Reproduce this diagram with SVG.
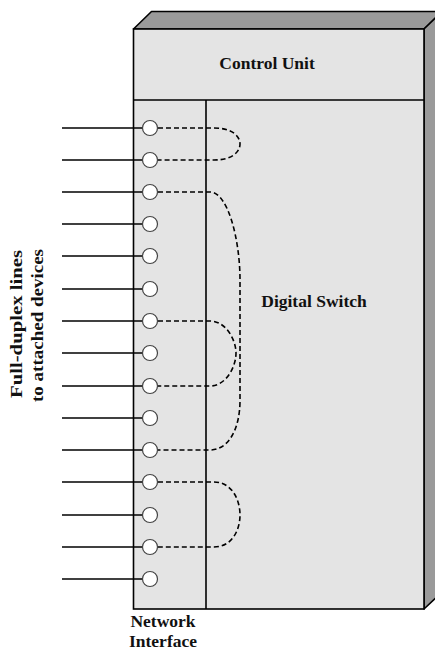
<svg xmlns="http://www.w3.org/2000/svg" width="435" height="650" viewBox="0 0 435 650">
  <style>
    .face { fill: #e4e4e4; stroke: #000; stroke-width: 1.6; }
    .side { fill: #9a9a9a; stroke: #000; stroke-width: 1.6; stroke-linejoin: round; }
    .edge { fill: none; stroke: #000; stroke-width: 1.6; }
    .line { stroke: #000; stroke-width: 1.6; }
    .port { fill: #fff; stroke: #444; stroke-width: 1.2; }
    .link { fill: none; stroke: #000; stroke-width: 1.6; stroke-dasharray: 5 3; }
    .label { font-family: "Liberation Serif", "Times New Roman", serif; font-weight: bold; font-size: 17.5px; fill: #111; }
  </style>
  <rect width="435" height="650" fill="#fff"/>

  <!-- switch cabinet -->
  <g id="cabinet">
    <polygon class="side" points="133.5,29 151.5,11.5 442,11.5 424,29"/>
    <polygon class="side" points="424,29 442,11.5 442,592 424,609"/>
    <rect class="face" x="133.5" y="29" width="290.5" height="580"/>
  </g>

  <g id="control-unit">
    <line class="edge" x1="133.5" y1="100" x2="424" y2="100"/>
    <text class="label" x="267" y="69" text-anchor="middle">Control Unit</text>
  </g>

  <g id="network-interface">
    <line class="edge" x1="206" y1="100" x2="206" y2="609"/>
    <text class="label" x="163" y="627" text-anchor="middle">Network</text>
    <text class="label" x="163" y="647" text-anchor="middle">Interface</text>
  </g>

  <g id="digital-switch">
    <text class="label" x="314" y="307" text-anchor="middle">Digital Switch</text>
  </g>

  <!-- full-duplex lines to devices -->
  <g id="lines">
    <line class="line" x1="62" y1="128" x2="143" y2="128"/>
    <line class="line" x1="62" y1="160" x2="143" y2="160"/>
    <line class="line" x1="62" y1="192" x2="143" y2="192"/>
    <line class="line" x1="62" y1="224" x2="143" y2="224"/>
    <line class="line" x1="62" y1="256" x2="143" y2="256"/>
    <line class="line" x1="62" y1="289" x2="143" y2="289"/>
    <line class="line" x1="62" y1="321" x2="143" y2="321"/>
    <line class="line" x1="62" y1="353" x2="143" y2="353"/>
    <line class="line" x1="62" y1="386" x2="143" y2="386"/>
    <line class="line" x1="62" y1="418" x2="143" y2="418"/>
    <line class="line" x1="62" y1="450" x2="143" y2="450"/>
    <line class="line" x1="62" y1="482" x2="143" y2="482"/>
    <line class="line" x1="62" y1="515" x2="143" y2="515"/>
    <line class="line" x1="62" y1="547" x2="143" y2="547"/>
    <line class="line" x1="62" y1="579" x2="143" y2="579"/>
  </g>

  <!-- switched connections -->
  <g id="connections">
    <path class="link" d="M158,128 H214 C232,128 240,136 240,144 C240,152 232,160 214,160 H158"/>
    <path class="link" d="M158,192 H210 C228,192 240,240 240,280 V400 C240,430 228,450 210,450 H158"/>
    <path class="link" d="M158,321 H210 C226,321 236,340 236,353 C236,367 226,386 210,386 H158"/>
    <path class="link" d="M158,482 H214 C232,482 240,500 240,515 C240,530 232,547 214,547 H158"/>
  </g>

  <g id="ports">
    <circle class="port" cx="150" cy="128" r="7.5"/>
    <circle class="port" cx="150" cy="160" r="7.5"/>
    <circle class="port" cx="150" cy="192" r="7.5"/>
    <circle class="port" cx="150" cy="224" r="7.5"/>
    <circle class="port" cx="150" cy="256" r="7.5"/>
    <circle class="port" cx="150" cy="289" r="7.5"/>
    <circle class="port" cx="150" cy="321" r="7.5"/>
    <circle class="port" cx="150" cy="353" r="7.5"/>
    <circle class="port" cx="150" cy="386" r="7.5"/>
    <circle class="port" cx="150" cy="418" r="7.5"/>
    <circle class="port" cx="150" cy="450" r="7.5"/>
    <circle class="port" cx="150" cy="482" r="7.5"/>
    <circle class="port" cx="150" cy="515" r="7.5"/>
    <circle class="port" cx="150" cy="547" r="7.5"/>
    <circle class="port" cx="150" cy="579" r="7.5"/>
  </g>

  <g id="lines-label">
    <text class="label" transform="translate(22,324) rotate(-90)" text-anchor="middle" font-size="15" textLength="148" lengthAdjust="spacingAndGlyphs">Full-duplex lines</text>
    <text class="label" transform="translate(43,325.5) rotate(-90)" text-anchor="middle" font-size="15" textLength="153" lengthAdjust="spacingAndGlyphs">to attached devices</text>
  </g>
</svg>
